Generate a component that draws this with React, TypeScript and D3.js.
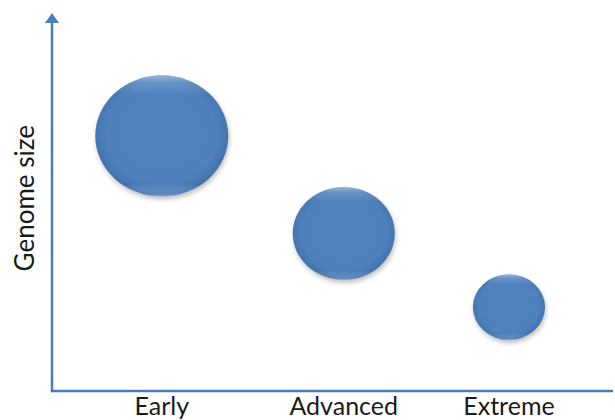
import React from "react";
import * as d3 from "d3";

const categories = ["Early", "Advanced", "Extreme"];
const stageValues = [0.196, 0.521, 0.816];
const genomeSizes = [0.675, 0.417, 0.222];
const bubbleSizes = [4.42, 2.6, 1.3];
const yAxisTitle = "Genome size";

const W = 615;
const H = 420;
const axisX = 52;
const axisY = 391;
const axisTop = 13;
const axisRight = 613;

export default function App() {
  const x = d3.scaleLinear().domain([0, 1]).range([axisX, axisRight - 1]);
  const y = d3.scaleLinear().domain([0, 1]).range([axisY, axisTop]);
  const r = d3.scaleSqrt().domain([0, d3.max(bubbleSizes) as number]).range([0, 66.5]);
  const aspect = 0.91;
  const font = "Lato, Carlito, 'Open Sans', sans-serif";
  const axisColor = "#4a7ebb";

  return (
    <svg width={W} height={H} style={{ position: "absolute", left: 0, top: 0, background: "#fff" }}>
      <defs>
        <radialGradient id="bfill" cx="50%" cy="48%" r="52%">
          <stop offset="0%" stopColor="#5183bf" />
          <stop offset="80%" stopColor="#4f81bd" />
          <stop offset="94%" stopColor="#4777b1" />
          <stop offset="100%" stopColor="#3e6ba1" />
        </radialGradient>
        <linearGradient id="btop" x1="0" y1="0" x2="0" y2="1">
          <stop offset="0%" stopColor="#ffffff" stopOpacity={0.45} />
          <stop offset="6%" stopColor="#ffffff" stopOpacity={0.15} />
          <stop offset="16%" stopColor="#ffffff" stopOpacity={0} />
          <stop offset="90%" stopColor="#ffffff" stopOpacity={0} />
          <stop offset="98%" stopColor="#9fc0e8" stopOpacity={0.25} />
          <stop offset="100%" stopColor="#c5daf3" stopOpacity={0.6} />
        </linearGradient>
        <filter id="bshadow" x="-30%" y="-30%" width="160%" height="160%">
          <feGaussianBlur stdDeviation="2.5" />
        </filter>
      </defs>

      {/* axes */}
      <line x1={axisX} y1={axisY} x2={axisRight} y2={axisY} stroke={axisColor} strokeWidth={2.5} />
      <line x1={axisX} y1={axisY + 1.25} x2={axisX} y2={axisTop + 8} stroke={axisColor} strokeWidth={2.5} />
      <path
        d={`M${axisX - 7},${axisTop + 10} L${axisX},${axisTop} L${axisX + 7},${axisTop + 10} Z`}
        fill={axisColor}
      />

      {/* bubbles */}
      {categories.map((c, i) => {
        const cx = x(stageValues[i]);
        const cy = y(genomeSizes[i]);
        const rx = r(bubbleSizes[i]);
        const ry = rx * aspect;
        return (
          <g key={c}>
            <ellipse cx={cx + 1} cy={cy + 3} rx={rx} ry={ry} fill="#000" opacity={0.25} filter="url(#bshadow)" />
            <ellipse cx={cx} cy={cy} rx={rx} ry={ry} fill="url(#bfill)" />
            <ellipse cx={cx} cy={cy} rx={rx} ry={ry} fill="url(#btop)" />
          </g>
        );
      })}

      {/* category labels */}
      {categories.map((c, i) => (
        <text
          key={c}
          x={x(stageValues[i])}
          y={415}
          textAnchor="middle"
          fontFamily={font}
          fontSize={25}
          fill="#1a1a1a"
        >
          {c}
        </text>
      ))}

      {/* y axis title */}
      <text
        transform={`translate(34,${y(0.51)})rotate(-90)`}
        textAnchor="middle"
        fontFamily={font}
        fontSize={26}
        fill="#1a1a1a"
      >
        {yAxisTitle}
      </text>
    </svg>
  );
}
